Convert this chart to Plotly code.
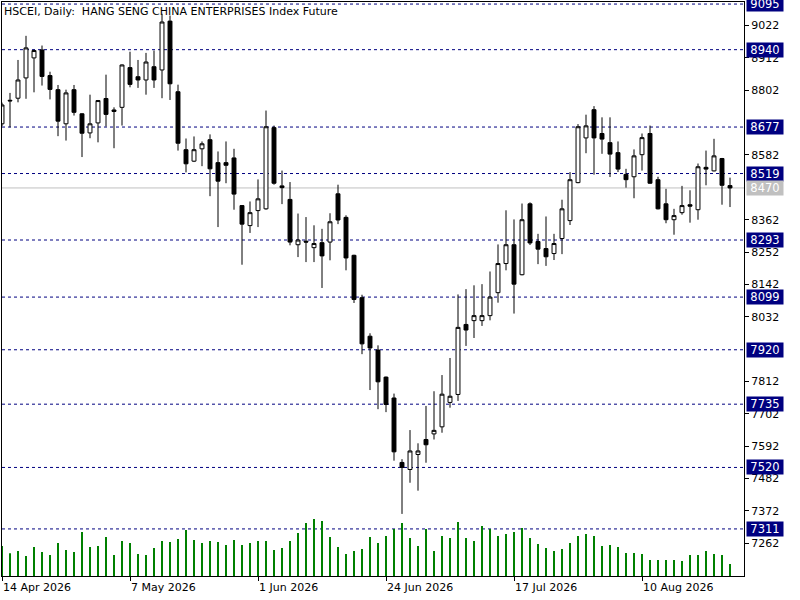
import pandas as pd
import plotly.graph_objects as go

# daily bars, HSCEI index future
opens = [8688, 8768, 8775, 8844, 8912, 8939, 8852, 8804, 8688, 8804,
         8722, 8657, 8691, 8774, 8735, 8744, 8879, 8848, 8837, 8882,
         8871, 9037, 8797, 8600, 8561, 8603, 8634, 8556, 8556, 8572,
         8410, 8342, 8393, 8399, 8675, 8477, 8431, 8277, 8289, 8267,
         8284, 8286, 8450, 8370, 8241, 8097, 7966, 7919, 7827, 7756,
         7537, 7513, 7564, 7615, 7634, 7658, 7741, 7768, 8006, 8019,
         8019, 8036, 8114, 8213, 8277, 8175, 8416, 8288, 8264, 8247,
         8298, 8359, 8488, 8640, 8736, 8655, 8624, 8590, 8516, 8508,
         8583, 8655, 8498, 8416, 8362, 8386, 8413, 8396, 8540, 8528,
         8570, 8478]
highs = [8760, 8793, 8905, 8987, 8940, 8954, 8865, 8820, 8804, 8820,
         8724, 8787, 8769, 8855, 8744, 8890, 8933, 8905, 8929, 8937,
         9062, 9056, 8821, 8638, 8645, 8628, 8652, 8594, 8628, 8603,
         8412, 8424, 8499, 8733, 8682, 8529, 8490, 8383, 8371, 8343,
         8331, 8384, 8481, 8377, 8243, 8107, 7976, 7935, 7829, 7771,
         7548, 7647, 7602, 7729, 7779, 7834, 7892, 8108, 8126, 8139,
         8143, 8186, 8278, 8394, 8363, 8417, 8421, 8314, 8373, 8314,
         8430, 8524, 8687, 8719, 8748, 8710, 8710, 8628, 8535, 8601,
         8655, 8682, 8508, 8467, 8399, 8477, 8462, 8553, 8597, 8637,
         8572, 8505]
lows = [8680, 8676, 8761, 8773, 8795, 8818, 8771, 8646, 8631, 8716,
        8575, 8639, 8625, 8679, 8605, 8682, 8812, 8810, 8787, 8810,
        8775, 8769, 8597, 8523, 8558, 8544, 8442, 8337, 8486, 8396,
        8209, 8317, 8337, 8396, 8481, 8415, 8275, 8235, 8218, 8218,
        8130, 8224, 8347, 8190, 8079, 7905, 7783, 7718, 7708, 7543,
        7362, 7468, 7441, 7536, 7615, 7638, 7723, 7746, 7933, 7960,
        8001, 8020, 8080, 8190, 8043, 8173, 8276, 8211, 8205, 8225,
        8245, 8344, 8486, 8588, 8515, 8586, 8507, 8524, 8471, 8435,
        8529, 8484, 8397, 8350, 8311, 8379, 8352, 8362, 8479, 8526,
        8413, 8405]
closes = [8752, 8766, 8837, 8946, 8937, 8849, 8805, 8697, 8793, 8727,
          8656, 8688, 8767, 8720, 8730, 8888, 8822, 8837, 8898, 8837,
          9034, 8824, 8622, 8552, 8600, 8620, 8535, 8493, 8547, 8449,
          8347, 8386, 8433, 8678, 8486, 8471, 8286, 8293, 8286, 8281,
          8239, 8355, 8361, 8232, 8091, 7940, 7926, 7811, 7734, 7573,
          7520, 7576, 7576, 7597, 7646, 7769, 7762, 7996, 7987, 8036,
          8036, 8099, 8213, 8277, 8143, 8362, 8283, 8262, 8236, 8281,
          8399, 8498, 8678, 8681, 8640, 8636, 8585, 8534, 8498, 8579,
          8641, 8486, 8399, 8362, 8376, 8410, 8408, 8542, 8534, 8579,
          8479, 8470]
volumes = [3000, 2270, 2500, 2000, 2900, 2400, 2100, 3300, 2600, 2400,
           4400, 2900, 3000, 3900, 2100, 3500, 3300, 2200, 2100, 2800,
           3500, 3400, 3700, 4600, 3600, 3300, 3500, 3400, 3100, 3600,
           3100, 3300, 3500, 3500, 2600, 2800, 3500, 4300, 5300, 5700,
           5500, 3900, 2900, 2200, 2500, 2700, 3900, 3300, 4000, 4700,
           5300, 3800, 3000, 4700, 2500, 4000, 3800, 5400, 3800, 3500,
           5000, 4700, 4000, 4200, 4400, 4800, 3800, 3200, 2800, 2500,
           2700, 3300, 4000, 4200, 4000, 3000, 3100, 2900, 2300, 2300,
           2200, 1600, 1600, 1600, 1600, 1500, 2100, 2100, 2500, 2200,
           2100, 1200]

# horizontal levels drawn on the chart
levels = [9095, 8940, 8677, 8519, 8293, 8099, 7920, 7735, 7520, 7311]
last_price = 8470
price_ticks = [9022, 8912, 8802, 8582, 8362, 8252, 8142, 8032,
               7812, 7702, 7592, 7482, 7372, 7262]

holidays = ["2026-05-01", "2026-05-25", "2026-06-19", "2026-07-01"]
dates = pd.bdate_range("2026-04-14", "2026-08-25")
dates = [d for d in dates if d.strftime("%Y-%m-%d") not in holidays]
idx = list(range(len(closes)))

NAVY = "#000080"
FONT = "DejaVu Sans"

fig = go.Figure()

fig.add_trace(go.Bar(
    x=idx, y=volumes, yaxis="y2", width=0.22,
    marker=dict(color="#008000", line=dict(width=0)),
    showlegend=False, hoverinfo="skip"
))

fig.add_trace(go.Candlestick(
    x=idx, open=opens, high=highs, low=lows, close=closes,
    increasing=dict(line=dict(color="black", width=1), fillcolor="white"),
    decreasing=dict(line=dict(color="black", width=1), fillcolor="black"),
    whiskerwidth=0, showlegend=False
))


def price_box(value, colour):
    # label box on the price scale, like the terminal's line labels
    return dict(text=str(value), xref="paper", x=1, xanchor="left", xshift=2,
                yref="y", y=value, yanchor="middle", showarrow=False,
                bgcolor=colour, borderpad=0, width=36, height=14, align="center",
                font=dict(family=FONT, size=11.5, color="white"))


shapes = []
annotations = []
for lv in levels:
    shapes.append(dict(type="line", xref="paper", x0=0, x1=1, yref="y", y0=lv, y1=lv,
                       line=dict(color=NAVY, width=1, dash="3px,3px"), layer="below"))
    annotations.append(price_box(lv, NAVY))
shapes.append(dict(type="line", xref="paper", x0=0, x1=1, yref="y", y0=last_price, y1=last_price,
                   line=dict(color="#c0c0c0", width=1), layer="below"))
annotations.append(price_box(last_price, "#c0c0c0"))

# date labels every 16 bars, left aligned on the tick like the terminal does
date_ticks = idx[::16]
for i in date_ticks:
    d = dates[i]
    annotations.append(dict(text=f"{d.day} {d.strftime('%b %Y')}", xref="x", x=i,
                            xanchor="left", xshift=-1, yref="paper", y=0, yanchor="top",
                            yshift=-3, showarrow=False,
                            font=dict(family=FONT, size=11, color="black")))

annotations.append(dict(text="HSCEI, Daily:  HANG SENG CHINA ENTERPRISES Index Future",
                        xref="paper", x=0, xanchor="left", xshift=0,
                        yref="paper", y=1, yanchor="top", yshift=-1, showarrow=False,
                        font=dict(family=FONT, size=11, color="black")))

fig.update_layout(
    width=800, height=600,
    margin=dict(l=2, r=56, t=2, b=24),
    paper_bgcolor="white", plot_bgcolor="white",
    showlegend=False,
    shapes=shapes, annotations=annotations,
    xaxis=dict(range=[0, 92.75], rangeslider=dict(visible=False),
               showgrid=False, zeroline=False, showline=True, linecolor="black",
               linewidth=1, mirror=True, tickvals=date_ticks, showticklabels=False,
               ticks="outside", ticklen=4, tickcolor="black"),
    yaxis=dict(range=[7151, 9102], side="right", showgrid=False, zeroline=False,
               showline=True, linecolor="black", linewidth=1, mirror=True,
               tickvals=price_ticks, ticktext=[str(t) for t in price_ticks],
               ticks="outside", ticklen=4, tickcolor="black",
               tickfont=dict(family=FONT, size=11, color="black")),
    yaxis2=dict(range=[0, 57400], overlaying="y", visible=False, showgrid=False),
    font=dict(family=FONT),
)

fig.write_html("out.html", config={"displayModeBar": False},
               post_script="document.body.style.margin='0px';")
